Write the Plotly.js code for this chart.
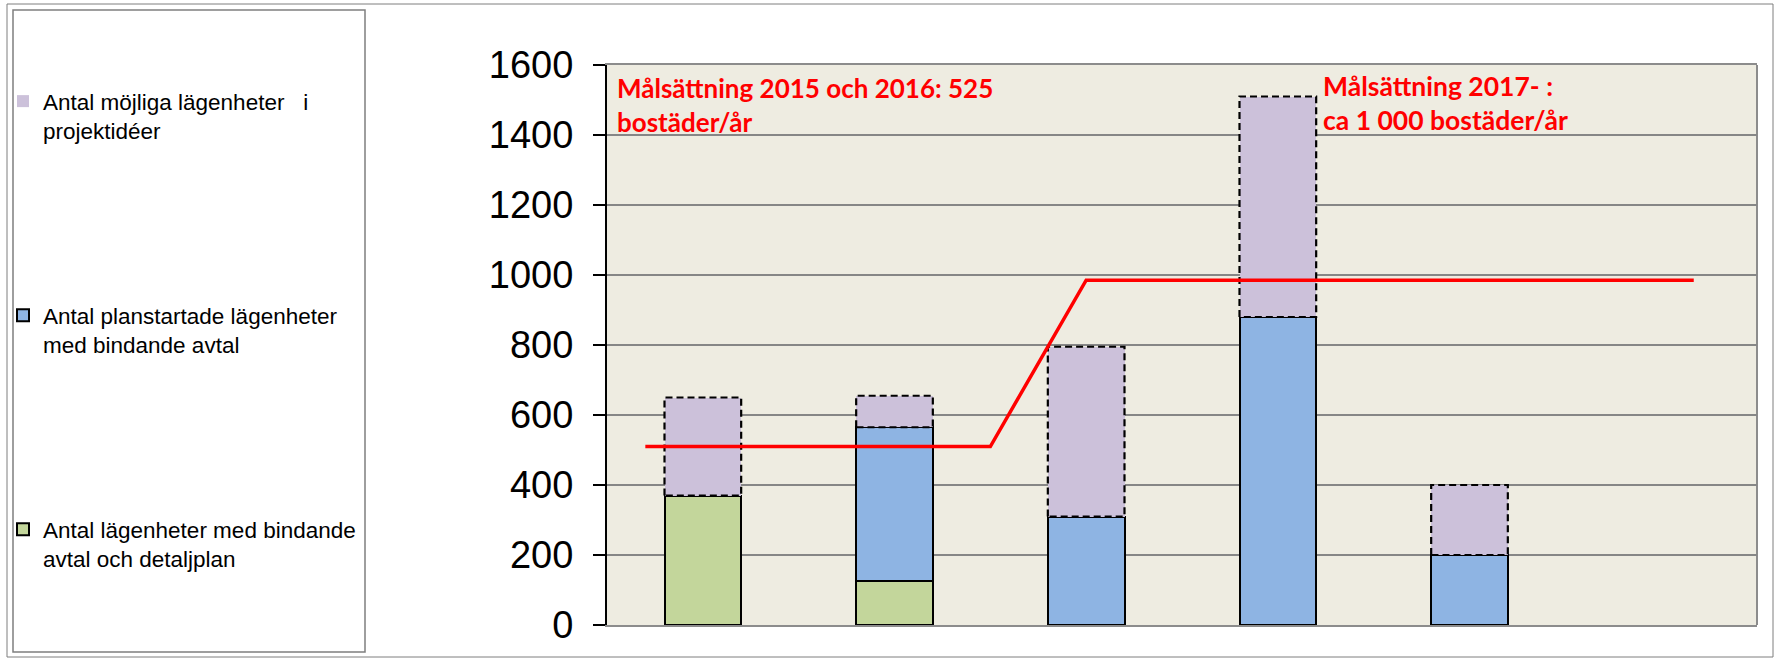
<!DOCTYPE html>
<html>
<head>
<meta charset="utf-8">
<script src="https://cdn.plot.ly/plotly-3.0.1.min.js"></script>
<style>
html,body{margin:0;padding:0;background:#fff;}
#chart{width:1777px;height:658px;}
</style>
</head>
<body>
<div id="chart"></div>
<script>
// ---- data ----
var categories = [0, 1, 2, 3, 4, 5];
var greenValues  = [370, 125, 0, 0, 0];     // Antal lägenheter med bindande avtal och detaljplan
var blueValues   = [0, 440, 310, 880, 200]; // Antal planstartade lägenheter med bindande avtal
var purpleValues = [280, 90, 485, 630, 200];// Antal möjliga lägenheter i projektidéer
var goalX = [-0.3, 1.5, 2.0, 5.17];
var goalY = [510, 510, 985, 985];
var yTicks = [0, 200, 400, 600, 800, 1000, 1200, 1400, 1600];
var legendNames = [
  "Antal möjliga lägenheter\u00a0\u00a0\u00a0i<br>projektidéer",
  "Antal planstartade lägenheter<br>med bindande avtal",
  "Antal lägenheter med bindande<br>avtal och detaljplan"
];
var goalTexts = [
  "Målsättning 2015 och 2016: 525<br>bostäder/år",
  "Målsättning 2017- :<br>ca 1 000 bostäder/år"
];

// ---- layout geometry (pixels) ----
var W = 1777, H = 658;
var PL = 607, PR = 1757, PT = 65, PB = 625;
function px(x){ return (x - PL) / (PR - PL); }
function py(y){ return (PB - y) / (PB - PT); }

var barW = 0.4;
var n = greenValues.length;
var xs = categories.slice(0, n);

var traces = [];
traces.push({type:'bar', x:xs, y:greenValues, width:barW, name:legendNames[2], legend:'legend3',
  marker:{color:'#C3D69B', line:{color:'#000', width:2}}, hoverinfo:'y'});
traces.push({type:'bar', x:xs, y:blueValues, width:barW, name:legendNames[1], legend:'legend2',
  marker:{color:'#8EB4E3', line:{color:'#000', width:2}}, hoverinfo:'y'});
traces.push({type:'bar', x:xs, y:purpleValues, width:barW, name:legendNames[0], legend:'legend',
  marker:{color:'#CCC1DA', line:{color:'rgba(0,0,0,0)', width:0}}, hoverinfo:'y'});

// dashed outlines around the purple segments, derived from the data
(function(){
  var ox = [], oy = [];
  for (var i = 0; i < n; i++) {
    var segBase = greenValues[i] + blueValues[i];
    var segTop = segBase + purpleValues[i];
    var xl = xs[i] - barW/2, xr = xs[i] + barW/2;
    ox.push(xl, xl, xr, xr, xl, null);
    oy.push(segBase, segTop, segTop, segBase, segBase, null);
  }
  traces.push({type:'scatter', mode:'lines', x:ox, y:oy, showlegend:false, hoverinfo:'skip',
    connectgaps:false, line:{color:'#000000', width:2.2, dash:'7px,4px'}});
})();

traces.push({type:'scatter', mode:'lines', x:goalX, y:goalY, showlegend:false,
  line:{color:'#FF0000', width:3.5}, hoverinfo:'y'});

var legFont = {size: 22.5, family: 'Liberation Sans, Arial, sans-serif', color: '#000'};
function leg(topPx){
  return {xref: 'container', yref: 'container', x: 13 / W, y: 1 - topPx / H,
    xanchor: 'left', yanchor: 'top', valign: 'top', font: legFont, indentation: -10,
    bgcolor: 'rgba(0,0,0,0)', borderwidth: 0};
}

var layout = {
  width: W, height: H,
  margin: {l: PL, r: W - PR, t: PT, b: H - PB, pad: 0},
  paper_bgcolor: '#fff',
  plot_bgcolor: '#EEECE1',
  barmode: 'stack',
  showlegend: true,
  font: {family: 'Liberation Sans, Arial, sans-serif', color: '#000'},
  xaxis: {range: [-0.5, 5.5], showticklabels: false, ticks: '', showgrid: false, zeroline: false,
    showline: true, linecolor: '#8C8C8C', linewidth: 2, mirror: true},
  yaxis: {range: [0, 1600], tickvals: yTicks, ticktext: yTicks.map(String),
    ticks: 'outside', ticklen: 12, tickwidth: 1.5, tickcolor: '#000', ticklabelstandoff: 12,
    tickfont: {size: 38, family: 'Liberation Sans, Arial, sans-serif', color: '#000'},
    showgrid: true, gridcolor: '#868686', gridwidth: 1.5, zeroline: false,
    showline: true, linecolor: '#000', linewidth: 2},
  legend: leg(80),
  legend2: leg(294),
  legend3: leg(508),
  annotations: [
    {xref: 'paper', yref: 'paper', x: px(615), y: py(70), xanchor: 'left', yanchor: 'top', align: 'left',
     showarrow: false, text: '<b>' + goalTexts[0] + '</b>',
     font: {family: 'Lato, sans-serif', size: 26, color: '#FF0000'}},
    {xref: 'paper', yref: 'paper', x: px(1321), y: py(68), xanchor: 'left', yanchor: 'top', align: 'left',
     showarrow: false, text: '<b>' + goalTexts[1] + '</b>',
     font: {family: 'Lato, sans-serif', size: 26.5, color: '#FF0000'}}
  ],
  shapes: [
    {type: 'rect', xref: 'paper', yref: 'paper', x0: px(7), x1: px(1773), y0: py(657), y1: py(4),
     line: {color: '#7F7F7F', width: 1}, fillcolor: 'rgba(0,0,0,0)', layer: 'below'},
    {type: 'rect', xref: 'paper', yref: 'paper', x0: px(13), x1: px(365), y0: py(652), y1: py(10),
     line: {color: '#7F7F7F', width: 1.5}, fillcolor: 'rgba(0,0,0,0)', layer: 'below'},
    {type: 'line', xref: 'paper', yref: 'paper', x0: 1, x1: 1, y0: 0, y1: 1,
     line: {color: '#8C8C8C', width: 2}, layer: 'below'}
  ]
};

Plotly.newPlot('chart', traces, layout, {displayModeBar: false, staticPlot: true});
</script>
</body>
</html>
